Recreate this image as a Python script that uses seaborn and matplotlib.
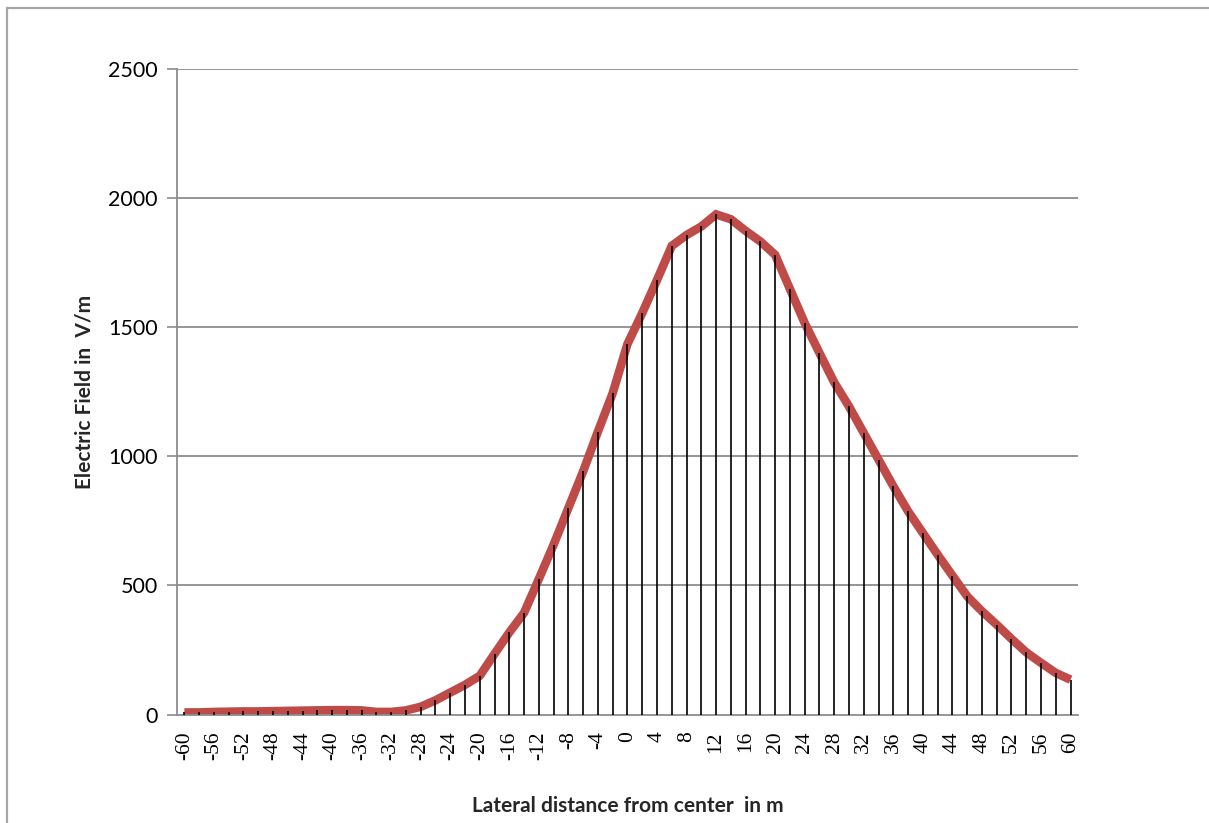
import matplotlib
matplotlib.use("Agg")
import matplotlib.pyplot as plt
import matplotlib.patches as mpatches
import seaborn as sns
import pandas as pd

# Lateral distance from the line centre (m)
distance = [-60, -58, -56, -54, -52, -50, -48, -46, -44, -42, -40, -38, -36, -34,
            -32, -30, -28, -26, -24, -22, -20, -18, -16, -14, -12, -10, -8, -6,
            -4, -2, 0, 2, 4, 6, 8, 10, 12, 14, 16, 18, 20, 22, 24, 26, 28, 30,
            32, 34, 36, 38, 40, 42, 44, 46, 48, 50, 52, 54, 56, 58, 60]

# Electric field at ground level (V/m)
field = [8, 8, 10, 11, 12, 12, 13, 14, 15, 16, 17, 17, 16, 10,
         10, 16, 30, 55, 85, 115, 150, 235, 318, 394, 525, 658, 800, 942,
         1096, 1245, 1435, 1555, 1683, 1815, 1857, 1890, 1937, 1918, 1873, 1832, 1780, 1648, 1516, 1400, 1286, 1193,
         1090, 987, 884, 787, 703, 619, 538, 458, 400, 348, 293, 241, 200, 161, 135]

x_tick_values = [-60, -56, -52, -48, -44, -40, -36, -32, -28, -24, -20, -16, -12, -8, -4,
                 0, 4, 8, 12, 16, 20, 24, 28, 32, 36, 40, 44, 48, 52, 56, 60]
y_tick_values = [0, 500, 1000, 1500, 2000, 2500]

df = pd.DataFrame({"distance": distance, "field": field})

sns.set_theme(style="white")
plt.rcParams["font.family"] = ["Liberation Serif", "DejaVu Sans"]

fig = plt.figure(figsize=(12.09, 8.23), dpi=100)
ax = fig.add_axes([0.1464, 0.1318, 0.7452, 0.7844])

grid_color = "#8C8C8C"
for yv in y_tick_values[1:]:
    ax.axhline(yv, color=grid_color, lw=1.3, zorder=0)

sns.lineplot(data=df, x="distance", y="field", ax=ax, color="#BF4B48",
             linewidth=6.2, solid_joinstyle="miter", solid_capstyle="butt",
             zorder=2)

# drop lines from each point down to the category axis
ax.vlines(df["distance"], 0, df["field"], colors="black", linewidth=1.2, zorder=3)

ax.set_xlim(-61, 61)
ax.set_ylim(0, 2500)

ax.set_xticks(x_tick_values)
ax.set_xticklabels([str(v) for v in x_tick_values], rotation=90,
                   fontsize=15.5, family=["Liberation Serif"])
ax.set_yticks(y_tick_values)
ax.set_yticklabels([str(v) for v in y_tick_values], fontsize=15.5,
                   family=["Lato", "DejaVu Sans"])

ax.tick_params(axis="y", which="major", length=7, width=1.2, color=grid_color,
               direction="out", left=True, pad=7, labelcolor="black")
ax.tick_params(axis="x", which="major", length=0, pad=12, labelcolor="black")

for side in ("top", "right"):
    ax.spines[side].set_visible(False)
for side in ("left", "bottom"):
    ax.spines[side].set_color(grid_color)
    ax.spines[side].set_linewidth(1.3)

ax.set_xlabel("Lateral distance from center  in m", fontsize=15,
              fontweight="bold", family=["Lato", "DejaVu Sans"], labelpad=26)
ax.set_ylabel("Electric Field in  V/m", fontsize=15,
              fontweight="bold", family=["Lato", "DejaVu Sans"], labelpad=10)

# thin frame round the chart area
frame = mpatches.Rectangle((6.5 / 1209, -0.05), 1.0, 1 - 7.5 / 823 + 0.05,
                           transform=fig.transFigure, fill=False,
                           edgecolor="#A6A6A6", linewidth=1.6, clip_on=False)
fig.patches.append(frame)

fig.savefig("out.png", dpi=100, facecolor="white")
